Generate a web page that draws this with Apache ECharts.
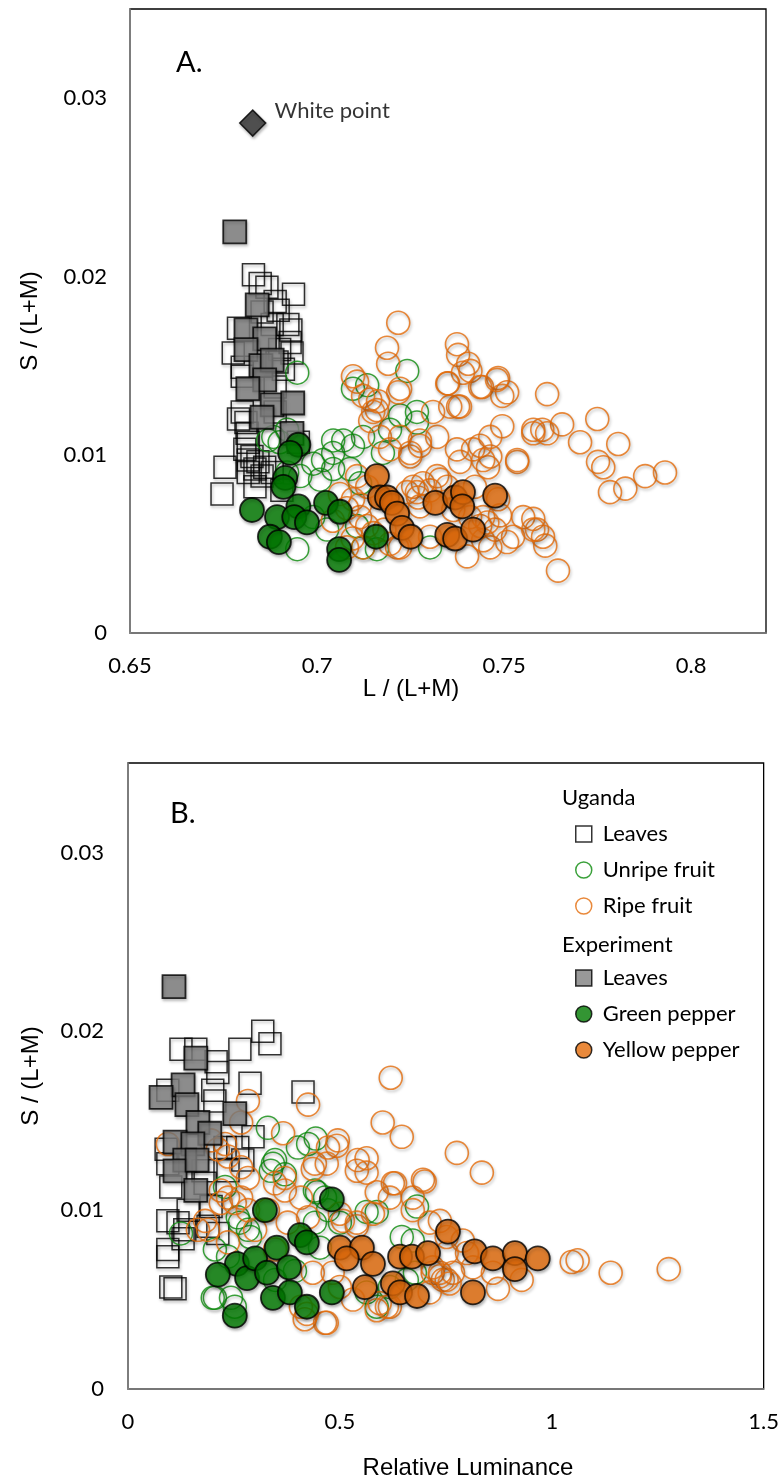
<!DOCTYPE html>
<html>
<head>
<meta charset="utf-8">
<script src="https://cdn.jsdelivr.net/npm/echarts@6/dist/echarts.min.js"></script>
<style>
html,body{margin:0;padding:0;background:#fff;}
#chart{width:782px;height:1482px;}
</style>
</head>
<body>
<div id="chart"></div>
<script>
// ---------- Panel A : S/(L+M) vs L/(L+M) ----------
const whitePointA = [[0.6828, 0.0286]];

const ugandaLeavesA = [
[0.683,0.0201],[0.6848,0.0196],[0.6866,0.0194],[0.6937,0.0190],[0.6888,0.0186],[0.6896,0.0181],
[0.679,0.0171],[0.693,0.0170],[0.6928,0.0163],[0.6776,0.0157],[0.690,0.0159],[0.6933,0.0157],
[0.6893,0.0152],[0.680,0.0149],[0.680,0.0144],[0.691,0.0148],[0.680,0.0124],[0.681,0.0118],
[0.6813,0.0112],[0.6816,0.0107],[0.6826,0.0099],[0.6754,0.0093],[0.6816,0.0097],[0.6842,0.0096],
[0.686,0.0093],[0.6834,0.0092],[0.6816,0.0090],[0.6853,0.0088],[0.688,0.0090],[0.6746,0.0078],
[0.6834,0.0082],[0.6807,0.0103],[0.679,0.0120],[0.6888,0.0124],[0.695,0.0107],[0.6906,0.0080],
[0.6888,0.0138],[0.6853,0.0180],[0.688,0.0173],[0.6922,0.0173]
];

const unripeFruitA = [
[0.6947,0.0146],[0.6869,0.0108],[0.6883,0.0110],[0.690,0.0107],[0.6947,0.0047],[0.692,0.0090],
[0.699,0.0095],[0.7043,0.0101],[0.707,0.0108],[0.7016,0.0097],[0.7043,0.0092],[0.7008,0.0086],
[0.7096,0.0137],[0.7134,0.0139],[0.7241,0.0147],[0.7222,0.0122],[0.7267,0.0118],[0.7123,0.0110],
[0.7096,0.0105],[0.7176,0.0101],[0.7088,0.0092],[0.7115,0.0084],[0.7027,0.0058],[0.699,0.0065],
[0.7107,0.0060],[0.7123,0.0048],[0.716,0.0047],[0.7302,0.0048],[0.7267,0.0124],[0.6955,0.0088],
[0.692,0.0114],[0.7195,0.0114],[0.7043,0.0108]
];

const ripeFruitA = [
[0.7217,0.0174],[0.7374,0.0162],[0.7377,0.0156],[0.7404,0.0151],[0.741,0.0147],[0.739,0.0146],
[0.735,0.0140],[0.7484,0.0143],[0.7441,0.0138],[0.7508,0.0135],[0.7495,0.0133],[0.7615,0.0134],
[0.7377,0.0127],[0.7749,0.0120],[0.7655,0.0117],[0.7602,0.0114],[0.7578,0.0114],[0.7703,0.0107],
[0.7805,0.0106],[0.7495,0.0116],[0.7535,0.0096],[0.7751,0.0096],[0.7765,0.0093],[0.7783,0.0079],
[0.7824,0.0081],[0.7877,0.0088],[0.793,0.0090],[0.7457,0.0093],[0.7463,0.0099],[0.7436,0.0105],
[0.7463,0.0110],[0.7374,0.0103],[0.7382,0.0096],[0.7321,0.0110],[0.7275,0.0105],[0.7249,0.0099],
[0.7321,0.0088],[0.7283,0.0084],[0.7257,0.0082],[0.7484,0.0075],[0.7489,0.0066],[0.7551,0.0065],
[0.7578,0.0064],[0.7588,0.0058],[0.7604,0.0054],[0.761,0.0049],[0.7644,0.0035],[0.7524,0.0054],
[0.7476,0.0058],[0.7436,0.0060],[0.7463,0.0048],[0.7401,0.0043],[0.7214,0.0048],[0.7302,0.0054],
[0.727,0.0076],[0.7241,0.0079],[0.7302,0.0080],[0.7348,0.0082],[0.7422,0.0082],[0.7364,0.0069],
[0.7409,0.0065],[0.7444,0.0065],[0.7187,0.0160],[0.719,0.0151],[0.7107,0.0141],[0.7142,0.0131],
[0.716,0.0125],[0.7142,0.0119],[0.7222,0.0137],[0.7168,0.0110],[0.7222,0.0110],[0.7195,0.0103],
[0.7249,0.0101],[0.7275,0.0108],[0.731,0.0124],[0.7356,0.0127],[0.7382,0.0127],[0.7348,0.0140],
[0.7436,0.0138],[0.7481,0.0142],[0.7107,0.0088],[0.7134,0.0082],[0.7096,0.0075],[0.7115,0.0065],
[0.715,0.0056],[0.7123,0.0048],[0.708,0.0048],[0.7222,0.0048],[0.7267,0.0079],[0.7275,0.0071],
[0.7329,0.0086],[0.7417,0.0103],[0.7444,0.0097],[0.7535,0.0097],[0.7578,0.0112],[0.7615,0.0112],
[0.7508,0.0051],[0.7578,0.0058],[0.7444,0.0052],[0.7455,0.0062],[0.7061,0.0078],[0.708,0.0070],
[0.7115,0.0072],[0.7134,0.0060],[0.7042,0.0063],[0.718,0.0058],[0.7195,0.0050],[0.7095,0.0053],
[0.7096,0.0144],[0.7123,0.0133],[0.7163,0.0130],[0.715,0.0124],[0.7217,0.0135]
];

const expLeavesA = [
[0.678,0.0225],[0.684,0.0184],[0.681,0.0170],[0.686,0.0165],[0.681,0.0159],[0.685,0.0150],
[0.688,0.0153],[0.686,0.0142],[0.6815,0.0137],[0.688,0.0128],[0.6935,0.0129],[0.6853,0.0121],
[0.6933,0.0112]
];

const greenPepperA = [
[0.695,0.01056],[0.6928,0.0101],[0.6915,0.0087],[0.691,0.0082],[0.6826,0.0069],[0.6893,0.0065],
[0.695,0.0071],[0.6939,0.0065],[0.6973,0.0062],[0.6874,0.0054],[0.6898,0.0051],[0.7024,0.0073],
[0.7061,0.0068],[0.7059,0.0047],[0.7059,0.0041],[0.7158,0.0054]
];

const yellowPepperA = [
[0.716,0.0088],[0.7168,0.0076],[0.7187,0.0076],[0.720,0.0073],[0.7214,0.0067],[0.7227,0.0059],
[0.725,0.0054],[0.7316,0.0073],[0.7369,0.0076],[0.739,0.0079],[0.7388,0.0071],[0.7348,0.0055],
[0.7369,0.0053],[0.7417,0.0058],[0.7476,0.0077]
];

// ---------- Panel B : S/(L+M) vs Relative Luminance ----------
const ugandaLeavesB = [
[0.125,0.0190],[0.160,0.0190],[0.208,0.0183],[0.264,0.0190],[0.318,0.0200],[0.335,0.0193],
[0.288,0.0171],[0.413,0.0166],[0.212,0.0177],[0.200,0.0167],[0.295,0.0141],[0.259,0.0135],
[0.090,0.0134],[0.271,0.0128],[0.229,0.0135],[0.101,0.0113],[0.142,0.0100],[0.094,0.0094],
[0.118,0.0093],[0.134,0.0089],[0.189,0.0091],[0.212,0.0087],[0.094,0.0078],[0.094,0.0074],
[0.101,0.0057],[0.111,0.0056],[0.130,0.0084],[0.182,0.0115],[0.196,0.0102],[0.094,0.0126],
[0.177,0.0122],[0.236,0.0122],[0.205,0.0161],[0.094,0.0167]
];

const unripeFruitB = [
[0.330,0.0146],[0.425,0.0137],[0.443,0.0140],[0.401,0.0135],[0.347,0.0128],[0.337,0.0122],
[0.370,0.0120],[0.229,0.0113],[0.441,0.0111],[0.465,0.0107],[0.259,0.0096],[0.283,0.0089],
[0.125,0.0087],[0.205,0.0078],[0.236,0.0074],[0.205,0.0051],[0.243,0.0051],[0.252,0.0046],
[0.347,0.0061],[0.394,0.0066],[0.441,0.0093],[0.472,0.0100],[0.342,0.0126],[0.446,0.0110],
[0.563,0.0099],[0.587,0.0099],[0.682,0.0102],[0.672,0.0083],[0.453,0.0079],[0.500,0.0093],
[0.563,0.0054],[0.587,0.0046],[0.618,0.0057],[0.658,0.0061],[0.200,0.0051],[0.264,0.0093],
[0.288,0.0085],[0.677,0.0065],[0.646,0.0085]
];

const ripeFruitB = [
[0.283,0.0161],[0.425,0.0159],[0.366,0.0143],[0.267,0.0149],[0.094,0.0137],[0.196,0.0139],
[0.229,0.0137],[0.212,0.0134],[0.236,0.0130],[0.267,0.0124],[0.283,0.0118],[0.347,0.0115],
[0.370,0.0118],[0.219,0.0111],[0.236,0.0107],[0.267,0.0107],[0.252,0.0104],[0.283,0.0100],
[0.219,0.0104],[0.182,0.0094],[0.165,0.0089],[0.189,0.0089],[0.236,0.0082],[0.300,0.0089],
[0.330,0.0100],[0.370,0.0111],[0.408,0.0107],[0.441,0.0126],[0.472,0.0135],[0.495,0.0139],
[0.417,0.0039],[0.465,0.0037],[0.408,0.0046],[0.347,0.0078],[0.377,0.0093],[0.425,0.0096],
[0.601,0.0149],[0.646,0.0141],[0.493,0.0136],[0.469,0.0126],[0.436,0.0123],[0.542,0.0128],
[0.540,0.0122],[0.563,0.0121],[0.625,0.0115],[0.696,0.0117],[0.587,0.0110],[0.618,0.0107],
[0.672,0.0107],[0.736,0.0094],[0.776,0.0132],[0.835,0.0121],[0.507,0.0094],[0.540,0.0091],
[0.436,0.0065],[0.483,0.0065],[0.500,0.0057],[0.531,0.0050],[0.587,0.0044],[0.618,0.0046],
[0.469,0.0037],[0.422,0.0042],[0.719,0.0065],[0.743,0.0061],[0.767,0.0065],[0.800,0.0076],
[0.861,0.0065],[0.700,0.0116],[0.712,0.0093],[0.790,0.0083],[1.047,0.0071],[1.061,0.0072],
[1.139,0.0065],[1.276,0.0067],[0.873,0.0056],[0.929,0.0061],[0.814,0.0068],[0.752,0.0061],
[0.736,0.0065],[0.719,0.0068],[0.712,0.0054],[0.752,0.0076],[0.620,0.0174],[0.563,0.0129],
[0.630,0.0115],[0.672,0.0100],[0.752,0.0085],[0.500,0.0098],[0.540,0.0093],[0.578,0.0098],
[0.736,0.0063],[0.759,0.0059],[0.594,0.0048],[0.611,0.0046]
];

const expLeavesB = [
[0.1085,0.0225],[0.160,0.0185],[0.130,0.0170],[0.078,0.0163],[0.139,0.0159],[0.252,0.0154],
[0.165,0.0149],[0.193,0.0143],[0.111,0.0138],[0.153,0.0137],[0.134,0.0128],[0.111,0.0122],
[0.160,0.0111],[0.163,0.0128]
];

const greenPepperB = [
[0.323,0.0100],[0.481,0.0106],[0.257,0.0070],[0.212,0.0064],[0.281,0.0062],[0.300,0.0073],
[0.328,0.0065],[0.351,0.0079],[0.380,0.0068],[0.406,0.0086],[0.422,0.0082],[0.342,0.0051],
[0.382,0.0054],[0.422,0.0046],[0.481,0.0054],[0.252,0.0041]
];

const yellowPepperB = [
[0.755,0.0088],[0.500,0.0079],[0.552,0.0079],[0.516,0.0073],[0.578,0.0070],[0.642,0.0074],
[0.670,0.0074],[0.708,0.0076],[0.818,0.0077],[0.861,0.0073],[0.913,0.0076],[0.913,0.0067],
[0.967,0.0073],[0.559,0.0057],[0.625,0.0059],[0.642,0.0054],[0.682,0.0052],[0.814,0.0054]
];

// ---------- text ----------
const panelLabels = ['A.', 'B.'];
const axisTitles = { xA: 'L / (L+M)', yA: 'S / (L+M)', xB: 'Relative Luminance', yB: 'S / (L+M)' };
const legendGroups = ['Uganda', 'Experiment'];
const seriesNames = ['Uganda leaves','Unripe fruit','Ripe fruit','Experiment leaves','Green pepper','Yellow pepper'];
const legendLabels = { 'Uganda leaves':'Leaves','Unripe fruit':'Unripe fruit','Ripe fruit':'Ripe fruit',
  'Experiment leaves':'Leaves','Green pepper':'Green pepper','Yellow pepper':'Yellow pepper' };
const whitePointLabel = 'White point';

// ---------- styles ----------
const ORANGE = '#E46C0A', GREEN_LINE = '#0A8A0A', GREEN_FILL = '#007A00', GRAY = '#7F7F7F';
const shadow = { shadowBlur: 3, shadowColor: 'rgba(0,0,0,0.32)', shadowOffsetX: 1, shadowOffsetY: 2 };
const TICK_FONT = { fontFamily: 'Lato', fontSize: 22, color: '#000' };

function hollow(color, w) { return Object.assign({ color: 'rgba(255,255,255,0)', borderColor: color, borderWidth: w }, shadow); }
function filled(color) { return Object.assign({ color: color, borderColor: '#000', borderWidth: 1.8 }, shadow); }

function makeSeries(gi, sets) {
  const specs = [
    { symbol: 'rect', size: 22, style: hollow('#000', 1.5) },
    { symbol: 'circle', size: 23, style: hollow(GREEN_LINE, 1.5) },
    { symbol: 'circle', size: 23, style: hollow(ORANGE, 1.6) },
    { symbol: 'rect', size: 23, style: filled(GRAY) },
    { symbol: 'circle', size: 24, style: filled(GREEN_FILL) },
    { symbol: 'circle', size: 24, style: filled(ORANGE) }
  ];
  return sets.map((d, i) => ({
    type: 'scatter', name: seriesNames[i], xAxisIndex: gi, yAxisIndex: gi,
    symbol: specs[i].symbol, symbolSize: specs[i].size, itemStyle: specs[i].style,
    data: d, emphasis: { disabled: true }, z: 2 + i
  }));
}

const series = [].concat(
  makeSeries(0, [ugandaLeavesA, unripeFruitA, ripeFruitA, expLeavesA, greenPepperA, yellowPepperA]),
  makeSeries(1, [ugandaLeavesB, unripeFruitB, ripeFruitB, expLeavesB, greenPepperB, yellowPepperB]),
  [{
    type: 'scatter', name: 'White point', xAxisIndex: 0, yAxisIndex: 0,
    symbol: 'diamond', symbolSize: [26, 26],
    itemStyle: Object.assign({ color: '#333333', borderColor: '#000', borderWidth: 1.5 }, shadow),
    label: { show: true, position: 'right', distance: 8, offset: [0, -12], formatter: whitePointLabel,
             fontFamily: 'Lato', fontSize: 22, color: '#000' },
    data: whitePointA, emphasis: { disabled: true }, z: 20
  }]
);

function axisCommon() {
  return {
    axisLine: { show: true, onZero: false, lineStyle: { color: '#8a8a8a', width: 1.5 } },
    axisTick: { show: false }, splitLine: { show: false },
    axisLabel: Object.assign({ margin: 22 }, TICK_FONT)
  };
}

const xA = Object.assign(axisCommon(), { type: 'value', gridIndex: 0, min: 0.65, max: 0.82, interval: 0.05 });
xA.axisLabel.showMaxLabel = false;
const yA = Object.assign(axisCommon(), { type: 'value', gridIndex: 0, min: 0, max: 0.035, interval: 0.01 });
yA.axisLabel.showMaxLabel = false; yA.axisLabel.margin = 23;
const xB = Object.assign(axisCommon(), { type: 'value', gridIndex: 1, min: 0, max: 1.5, interval: 0.5 });
const yB = Object.assign(axisCommon(), { type: 'value', gridIndex: 1, min: 0, max: 0.035, interval: 0.01 });
yB.axisLabel.showMaxLabel = false; yB.axisLabel.margin = 24;

const legendText = { fontFamily: 'Lato', fontSize: 22, color: '#000', padding: [0, 0, 0, 6] };
function legendItem(name, i) {
  const st = [
    { color: '#fff', borderColor: '#000', borderWidth: 1.5 },
    { color: '#fff', borderColor: GREEN_LINE, borderWidth: 1.5 },
    { color: '#fff', borderColor: ORANGE, borderWidth: 1.5 },
    { color: GRAY, borderColor: '#000', borderWidth: 1.5 },
    { color: GREEN_FILL, borderColor: '#000', borderWidth: 1.5 },
    { color: ORANGE, borderColor: '#000', borderWidth: 1.5 }
  ][i];
  return { name: name, icon: (i === 0 || i === 3) ? 'rect' : 'circle', itemStyle: Object.assign({ shadowBlur: 0, shadowColor: 'transparent' }, st) };
}

const titleFont = { fontFamily: '"Liberation Sans", Arial, sans-serif', fontSize: 24, fill: '#000' };
function gText(x, y, text, style, extra) {
  return Object.assign({ type: 'text', x: x, y: y, silent: true,
    style: Object.assign({ text: text }, style) }, extra || {});
}

const option = {
  animation: false,
  backgroundColor: '#fff',
  grid: [
    { left: 130, top: 9, width: 636, height: 624, show: true, borderColor: '#000', borderWidth: 1.3, backgroundColor: 'transparent' },
    { left: 128, top: 763, width: 636, height: 626, show: true, borderColor: '#000', borderWidth: 1.3, backgroundColor: 'transparent' }
  ],
  xAxis: [xA, xB],
  yAxis: [yA, yB],
  legend: [
    { left: 575, top: 823, padding: 0, orient: 'vertical', itemWidth: 16, itemHeight: 16, itemGap: 14, selectedMode: false,
      data: seriesNames.slice(0, 3).map((n, i) => legendItem(n, i)),
      formatter: n => legendLabels[n], textStyle: legendText },
    { left: 575, top: 967, padding: 0, orient: 'vertical', itemWidth: 16, itemHeight: 16, itemGap: 14, selectedMode: false,
      data: seriesNames.slice(3).map((n, i) => legendItem(n, i + 3)),
      formatter: n => legendLabels[n], textStyle: legendText }
  ],
  graphic: [
    gText(176, 63, panelLabels[0], { fontFamily: 'Lato', fontSize: 29, fill: '#000', textVerticalAlign: 'middle' }),
    gText(170, 814, panelLabels[1], { fontFamily: 'Lato', fontSize: 29, fill: '#000', textVerticalAlign: 'middle' }),
    gText(562, 798, legendGroups[0], { fontFamily: 'Lato', fontSize: 22, fill: '#000', textVerticalAlign: 'middle' }),
    gText(562, 945, legendGroups[1], { fontFamily: 'Lato', fontSize: 22, fill: '#000', textVerticalAlign: 'middle' }),
    gText(411, 689, axisTitles.xA, Object.assign({ textAlign: 'center', textVerticalAlign: 'middle' }, titleFont)),
    gText(468, 1468, axisTitles.xB, Object.assign({ textAlign: 'center', textVerticalAlign: 'middle' }, titleFont)),
    gText(30, 321, axisTitles.yA, Object.assign({ textAlign: 'center', textVerticalAlign: 'middle' }, titleFont), { rotation: Math.PI / 2 }),
    gText(31, 1076, axisTitles.yB, Object.assign({ textAlign: 'center', textVerticalAlign: 'middle' }, titleFont), { rotation: Math.PI / 2 })
  ],
  series: series
};

const chart = echarts.init(document.getElementById('chart'), null, { renderer: 'canvas' });
chart.setOption(option);
</script>
</body>
</html>
